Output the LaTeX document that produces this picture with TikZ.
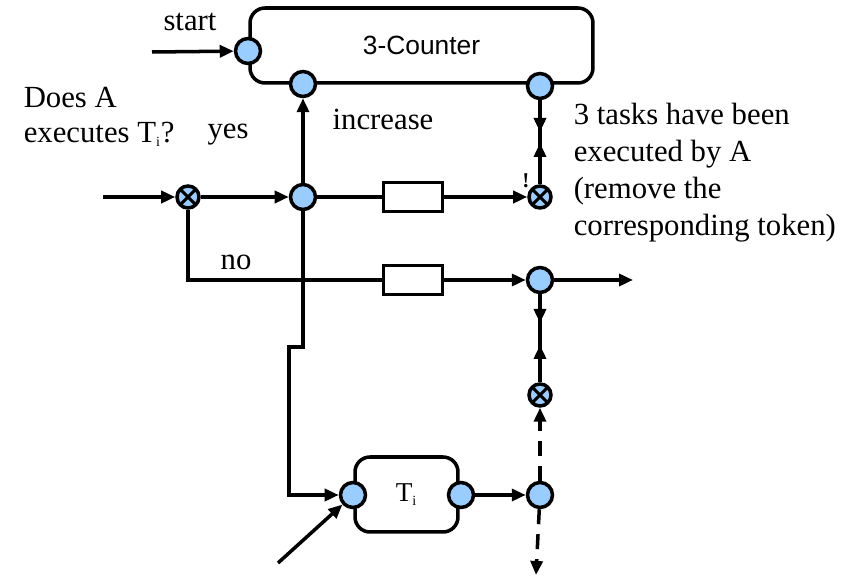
\documentclass[tikz,border=0pt]{standalone}
\usepackage{fontspec}
\setmainfont{Liberation Serif}
\newfontfamily\countfont{Liberation Sans}
\usetikzlibrary{arrows.meta}
\definecolor{portblue}{HTML}{99CCFF}

\begin{document}
\begin{tikzpicture}[x=0.02cm, y=-0.02cm, line width=2pt,
    font=\fontsize{17.5}{20}\selectfont,
    arr/.style={-{Triangle[length=0.28cm,width=0.24cm]}},
    port/.style={draw, fill=portblue, circle, minimum size=0.5cm, inner sep=0pt},
    xport/.style={draw, fill=portblue, circle, minimum size=0.44cm, inner sep=0pt,
      path picture={\draw[line width=1.8pt] (path picture bounding box.south west) -- (path picture bounding box.north east)
        (path picture bounding box.north west) -- (path picture bounding box.south east);}},
    taskbox/.style={draw, rounded corners=0.3cm},
    delay/.style={draw, minimum width=1.18cm, minimum height=0.58cm, inner sep=0pt}]
  \useasboundingbox (0,0) rectangle (850,577);

  % counter and its ports
  \node[taskbox, minimum width=6.86cm, minimum height=1.5cm, font=\countfont\fontsize{15}{18}\selectfont] (counter) at (421.5,45.5) {3-Counter};
  \node[port] (pstart) at (248,51) {};
  \node[port] (pinc) at (303,84) {};
  \node[port] (pout) at (540,86) {};

  % decision and joins
  \node[xport] (xa) at (188,197) {};
  \node[port] (yesjoin) at (303,197) {};
  \node[xport] (xb) at (540,197) {};
  \node[port] (jout) at (540,280) {};
  \node[xport] (xc) at (540,395) {};
  \node[port] (pt) at (540,495) {};
  \node[delay] (dyes) at (413,197) {};
  \node[delay] (dno) at (413,280) {};

  % task T_i
  \node[taskbox, minimum width=2.06cm, minimum height=1.5cm, font=\fontsize{15.5}{18}\selectfont] (task) at (406.5,494.5) {T\textsubscript{\fontsize{8}{8}\selectfont i}};
  \node[port] (tiin) at (353,495) {};
  \node[port] (tiout) at (461,495) {};

  \coordinate (startin) at (152,52);
  \coordinate (ain) at (103,197);
  \coordinate (outr) at (633,280);
  \coordinate (tipa) at (540,132);
  \coordinate (tipb) at (540,143);
  \coordinate (tipc) at (540,323);
  \coordinate (tipd) at (540,345);
  \coordinate (jog1) at (303,347);
  \coordinate (jog2) at (289,347);
  \coordinate (tiext) at (278,563);
  \coordinate (downend) at (536,575);

  \draw[arr] (startin) -- (pstart);
  \draw[arr] (ain) -- (xa);
  \draw[arr] (xa) -- (yesjoin);
  \draw[arr] (yesjoin) -- (pinc);
  \draw (yesjoin) -- (dyes);
  \draw[arr] (dyes) -- (xb);
  \draw (xa) |- (dno);
  \draw[arr] (dno) -- (jout);
  \draw[arr] (jout) -- (outr);
  \draw (pout) -- (xb);
  \draw[arr] (pout) -- (tipa);
  \draw[arr] (xb) -- (tipb);
  \draw (jout) -- (xc);
  \draw[arr] (jout) -- (tipc);
  \draw[arr] (xc) -- (tipd);
  \draw[arr, dash pattern=on 0.3cm off 0.2cm] (pt) -- (xc);
  \draw[arr, dash pattern=on 0.3cm off 0.2cm] (pt) -- (downend);
  \draw[arr] (tiout) -- (pt);
  \draw[arr] (yesjoin) -- (jog1) -- (jog2) |- (tiin.west);
  \draw[arr] (tiext) -- (tiin);

  % labels
  \node (lstart) at (190,22) {start};
  \node (linc) at (383,119) {increase};
  \node (lyes) at (228,135) {yes};
  \node (lno) at (236,262) {no};
  \node[font=\fontsize{12}{12}\selectfont\bfseries] (lbang) at (526,181) {!};
  \node[align=left, anchor=west, inner sep=0pt] (lask) at (22,117) {Does A\\executes T\textsubscript{\fontsize{8}{8}\selectfont i}?};
  \node[align=left, anchor=north west, inner sep=0pt, font=\fontsize{17.5}{21.2}\selectfont] (ldone) at (572,101)
    {3 tasks have been\\executed by A\\(remove the\\corresponding token)};
\end{tikzpicture}
\end{document}
